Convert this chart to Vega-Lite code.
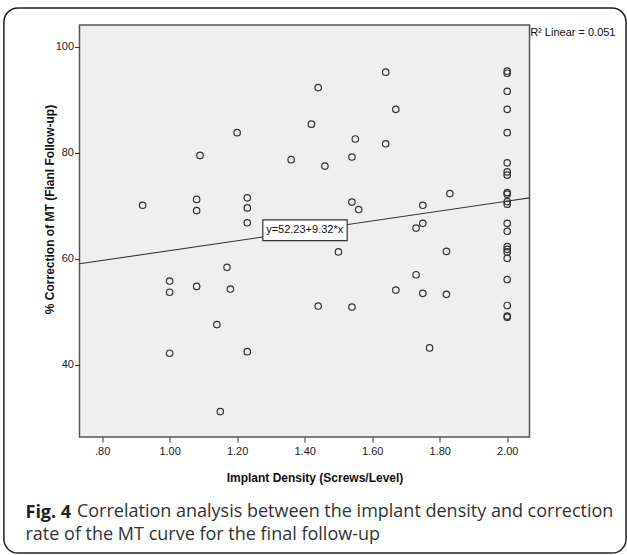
{
  "$schema": "https://vega.github.io/schema/vega-lite/v6.json",
  "width": 450,
  "height": 412,
  "autosize": {"type": "none"},
  "padding": {"left": 79.5, "top": 25, "right": 97.5, "bottom": 118},
  "background": "white",
  "config": {
    "view": {"fill": "#efefef", "stroke": "#555555", "strokeWidth": 1.5},
    "axis": {
      "labelFont": "Liberation Sans", "labelFontSize": 11, "labelColor": "#222222",
      "titleFont": "Liberation Sans", "titleFontSize": 12, "titleFontWeight": "bold", "titleColor": "#111111",
      "tickColor": "#333333", "tickSize": 5, "domain": false, "grid": false
    }
  },
  "datasets": {
    "pts": [
      {"density": 0.92, "correction": 70.1},
      {"density": 1.00, "correction": 55.8},
      {"density": 1.00, "correction": 53.7},
      {"density": 1.00, "correction": 42.2},
      {"density": 1.08, "correction": 71.2},
      {"density": 1.08, "correction": 69.1},
      {"density": 1.08, "correction": 54.8},
      {"density": 1.09, "correction": 79.5},
      {"density": 1.14, "correction": 47.6},
      {"density": 1.15, "correction": 31.2},
      {"density": 1.17, "correction": 58.4},
      {"density": 1.18, "correction": 54.3},
      {"density": 1.20, "correction": 83.8},
      {"density": 1.23, "correction": 71.5},
      {"density": 1.23, "correction": 69.6},
      {"density": 1.23, "correction": 66.8},
      {"density": 1.23, "correction": 42.5},
      {"density": 1.36, "correction": 78.7},
      {"density": 1.42, "correction": 85.4},
      {"density": 1.44, "correction": 92.3},
      {"density": 1.44, "correction": 51.1},
      {"density": 1.46, "correction": 77.5},
      {"density": 1.50, "correction": 61.3},
      {"density": 1.54, "correction": 79.2},
      {"density": 1.54, "correction": 70.7},
      {"density": 1.54, "correction": 50.9},
      {"density": 1.55, "correction": 82.6},
      {"density": 1.56, "correction": 69.3},
      {"density": 1.64, "correction": 95.2},
      {"density": 1.64, "correction": 81.7},
      {"density": 1.67, "correction": 88.2},
      {"density": 1.67, "correction": 54.1},
      {"density": 1.73, "correction": 65.8},
      {"density": 1.73, "correction": 57.0},
      {"density": 1.75, "correction": 70.1},
      {"density": 1.75, "correction": 66.7},
      {"density": 1.75, "correction": 53.5},
      {"density": 1.77, "correction": 43.2},
      {"density": 1.82, "correction": 61.4},
      {"density": 1.82, "correction": 53.3},
      {"density": 1.83, "correction": 72.3},
      {"density": 2.00, "correction": 95.4},
      {"density": 2.00, "correction": 95.0},
      {"density": 2.00, "correction": 91.6},
      {"density": 2.00, "correction": 88.2},
      {"density": 2.00, "correction": 83.8},
      {"density": 2.00, "correction": 78.1},
      {"density": 2.00, "correction": 76.4},
      {"density": 2.00, "correction": 75.8},
      {"density": 2.00, "correction": 72.5},
      {"density": 2.00, "correction": 72.2},
      {"density": 2.00, "correction": 70.8},
      {"density": 2.00, "correction": 70.3},
      {"density": 2.00, "correction": 66.7},
      {"density": 2.00, "correction": 65.2},
      {"density": 2.00, "correction": 62.3},
      {"density": 2.00, "correction": 61.8},
      {"density": 2.00, "correction": 61.3},
      {"density": 2.00, "correction": 60.1},
      {"density": 2.00, "correction": 56.1},
      {"density": 2.00, "correction": 51.2},
      {"density": 2.00, "correction": 49.2},
      {"density": 2.00, "correction": 49.0}
    ],
    "fit": [
      {"density": 0.733, "correction": 59.06},
      {"density": 2.066, "correction": 71.49}
    ],
    "eq": [
      {"density": 1.40, "correction": 65.4, "x0": 1.276, "x1": 1.526, "y0": 67.34, "y1": 63.44, "label": "y=52.23+9.32*x"}
    ],
    "r2": [
      {"density": 2.068, "correction": 102.6, "label": "R² Linear = 0.051"}
    ],
    "frame": [
      {"x0": 0.509, "x1": 2.352, "y0": 107.3, "y1": 4.5}
    ]
  },
  "title": {
    "text": "Fig. 4",
    "subtitle": ["\u200b\u00a0\u00a0\u00a0\u00a0\u00a0\u00a0\u00a0\u00a0\u00a0\u00a0\u00a0Correlation analysis between the implant density and correction", "rate of the MT curve for the final follow-up"],
    "orient": "bottom",
    "anchor": "start",
    "frame": "group",
    "dx": -54,
    "dy": -64,
    "offset": 14,
    "font": "Open Sans",
    "fontSize": 18,
    "fontWeight": "bold",
    "color": "#222222",
    "subtitleFont": "Open Sans",
    "subtitleFontSize": 18,
    "subtitleColor": "#333333",
    "subtitleFontWeight": "normal",
    "subtitlePadding": -19,
    "subtitleLineHeight": 23
  },
  "layer": [
    {
      "data": {"name": "frame"},
      "mark": {"type": "rect", "fill": null, "stroke": "#222222", "strokeWidth": 1.5, "cornerRadius": 14, "clip": false},
      "encoding": {
        "x": {"field": "x0", "type": "quantitative", "scale": {"domain": [0.733, 2.066], "zero": false, "nice": false}},
        "x2": {"field": "x1"},
        "y": {"field": "y0", "type": "quantitative", "scale": {"domain": [26.4, 104.1], "zero": false, "nice": false}},
        "y2": {"field": "y1"}
      }
    },
    {
      "data": {"name": "pts"},
      "mark": {"type": "point", "shape": "circle", "filled": false, "stroke": "#333333", "strokeWidth": 1.2, "size": 42, "opacity": 1},
      "encoding": {
        "x": {
          "field": "density", "type": "quantitative",
          "scale": {"domain": [0.733, 2.066], "zero": false, "nice": false},
          "axis": {
            "title": "Implant Density (Screws/Level)",
            "values": [0.8, 1.0, 1.2, 1.4, 1.6, 1.8, 2.0],
            "labelExpr": "datum.value < 0.9 ? '.80' : format(datum.value, '.2f')",
            "labelPadding": 3,
            "titleX": 235, "titleY": 40, "titleBaseline": "middle"
          }
        },
        "y": {
          "field": "correction", "type": "quantitative",
          "scale": {"domain": [26.4, 104.1], "zero": false, "nice": false},
          "axis": {
            "title": "% Correction of MT (Fianl Follow-up)",
            "values": [40, 60, 80, 100],
            "labelPadding": 1,
            "titleX": -30, "titleY": 184, "titleBaseline": "middle", "titleAngle": -90
          }
        }
      }
    },
    {
      "data": {"name": "fit"},
      "mark": {"type": "line", "color": "#333333", "strokeWidth": 1.1},
      "encoding": {
        "x": {"field": "density", "type": "quantitative"},
        "y": {"field": "correction", "type": "quantitative"}
      }
    },
    {
      "data": {"name": "eq"},
      "mark": {"type": "rect", "fill": "white", "stroke": "#333333", "strokeWidth": 1.2},
      "encoding": {
        "x": {"field": "x0", "type": "quantitative"},
        "x2": {"field": "x1"},
        "y": {"field": "y0", "type": "quantitative"},
        "y2": {"field": "y1"}
      }
    },
    {
      "data": {"name": "eq"},
      "mark": {"type": "text", "font": "Liberation Sans", "fontSize": 11, "color": "#111111", "align": "center", "baseline": "middle"},
      "encoding": {
        "x": {"field": "density", "type": "quantitative"},
        "y": {"field": "correction", "type": "quantitative"},
        "text": {"field": "label"}
      }
    },
    {
      "data": {"name": "r2"},
      "mark": {"type": "text", "font": "Liberation Sans", "fontSize": 11, "color": "#111111", "align": "left", "baseline": "middle", "clip": false},
      "encoding": {
        "x": {"field": "density", "type": "quantitative"},
        "y": {"field": "correction", "type": "quantitative"},
        "text": {"field": "label"}
      }
    }
  ]
}
